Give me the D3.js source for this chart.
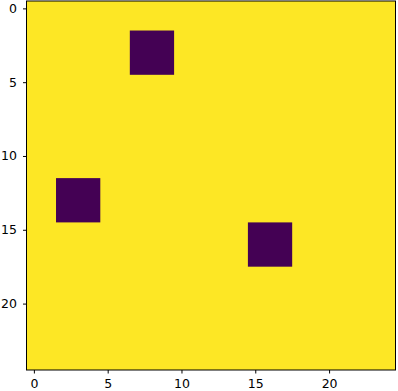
<!DOCTYPE html>
<html>
<head>
<meta charset="utf-8">
<script src="https://cdn.jsdelivr.net/npm/d3@7"></script>
<style>
  body { margin: 0; background: #fff; }
  svg text { font-family: "DejaVu Sans", sans-serif; }
</style>
</head>
<body>
<div id="chart"></div>
<script>
// Image grid: 25 x 25, background value 1, three 3x3 blocks of value 0
const nRows = 25;
const nCols = 25;
const backgroundValue = 1;
const blockRows = [2, 12, 15];   // top row of each block
const blockCols = [7, 2, 15];    // left column of each block
const blockSize = 3;
const blockValue = 0;
const xTicks = [0, 5, 10, 15, 20];
const yTicks = [0, 5, 10, 15, 20];

const width = 398;
const height = 391;
const margin = {top: 1, right: 2.5, bottom: 21, left: 26.5};

const svg = d3.select("#chart").append("svg")
    .attr("width", width)
    .attr("height", height);

const blocks = blockRows.map((r, i) => ({row: r, col: blockCols[i], value: blockValue}));

const x = d3.scaleLinear()
    .domain([-0.5, nCols - 0.5])
    .range([margin.left, width - margin.right]);

const y = d3.scaleLinear()
    .domain([-0.5, nRows - 0.5])
    .range([margin.top, height - margin.bottom]);

const color = d3.scaleSequential(d3.interpolateViridis)
    .domain([0, 1]);

// background (all cells at backgroundValue)
svg.append("rect")
    .attr("x", x(-0.5))
    .attr("y", y(-0.5))
    .attr("width", x(nCols - 0.5) - x(-0.5))
    .attr("height", y(nRows - 0.5) - y(-0.5))
    .attr("fill", color(backgroundValue));

svg.append("g")
    .selectAll("rect")
    .data(blocks)
    .join("rect")
    .attr("x", d => x(d.col - 0.5))
    .attr("y", d => y(d.row - 0.5))
    .attr("width", x(blockSize) - x(0))
    .attr("height", y(blockSize) - y(0))
    .attr("fill", d => color(d.value));

// frame
svg.append("rect")
    .attr("x", x(-0.5))
    .attr("y", y(-0.5))
    .attr("width", x(nCols - 0.5) - x(-0.5))
    .attr("height", y(nRows - 0.5) - y(-0.5))
    .attr("fill", "none")
    .attr("stroke", "black")
    .attr("stroke-width", 1);

const xAxis = svg.append("g")
    .attr("transform", `translate(0,${y(nRows - 0.5)})`)
    .call(d3.axisBottom(x).tickValues(xTicks).tickSize(3.5).tickPadding(6));

const yAxis = svg.append("g")
    .attr("transform", `translate(${x(-0.5)},0)`)
    .call(d3.axisLeft(y).tickValues(yTicks).tickSize(3.5).tickPadding(6));

[xAxis, yAxis].forEach(g => {
    g.select(".domain").remove();
    g.selectAll("line").attr("stroke", "black");
    g.selectAll("text")
        .attr("fill", "black")
        .style("font-size", "12.5px");
});
</script>
</body>
</html>
